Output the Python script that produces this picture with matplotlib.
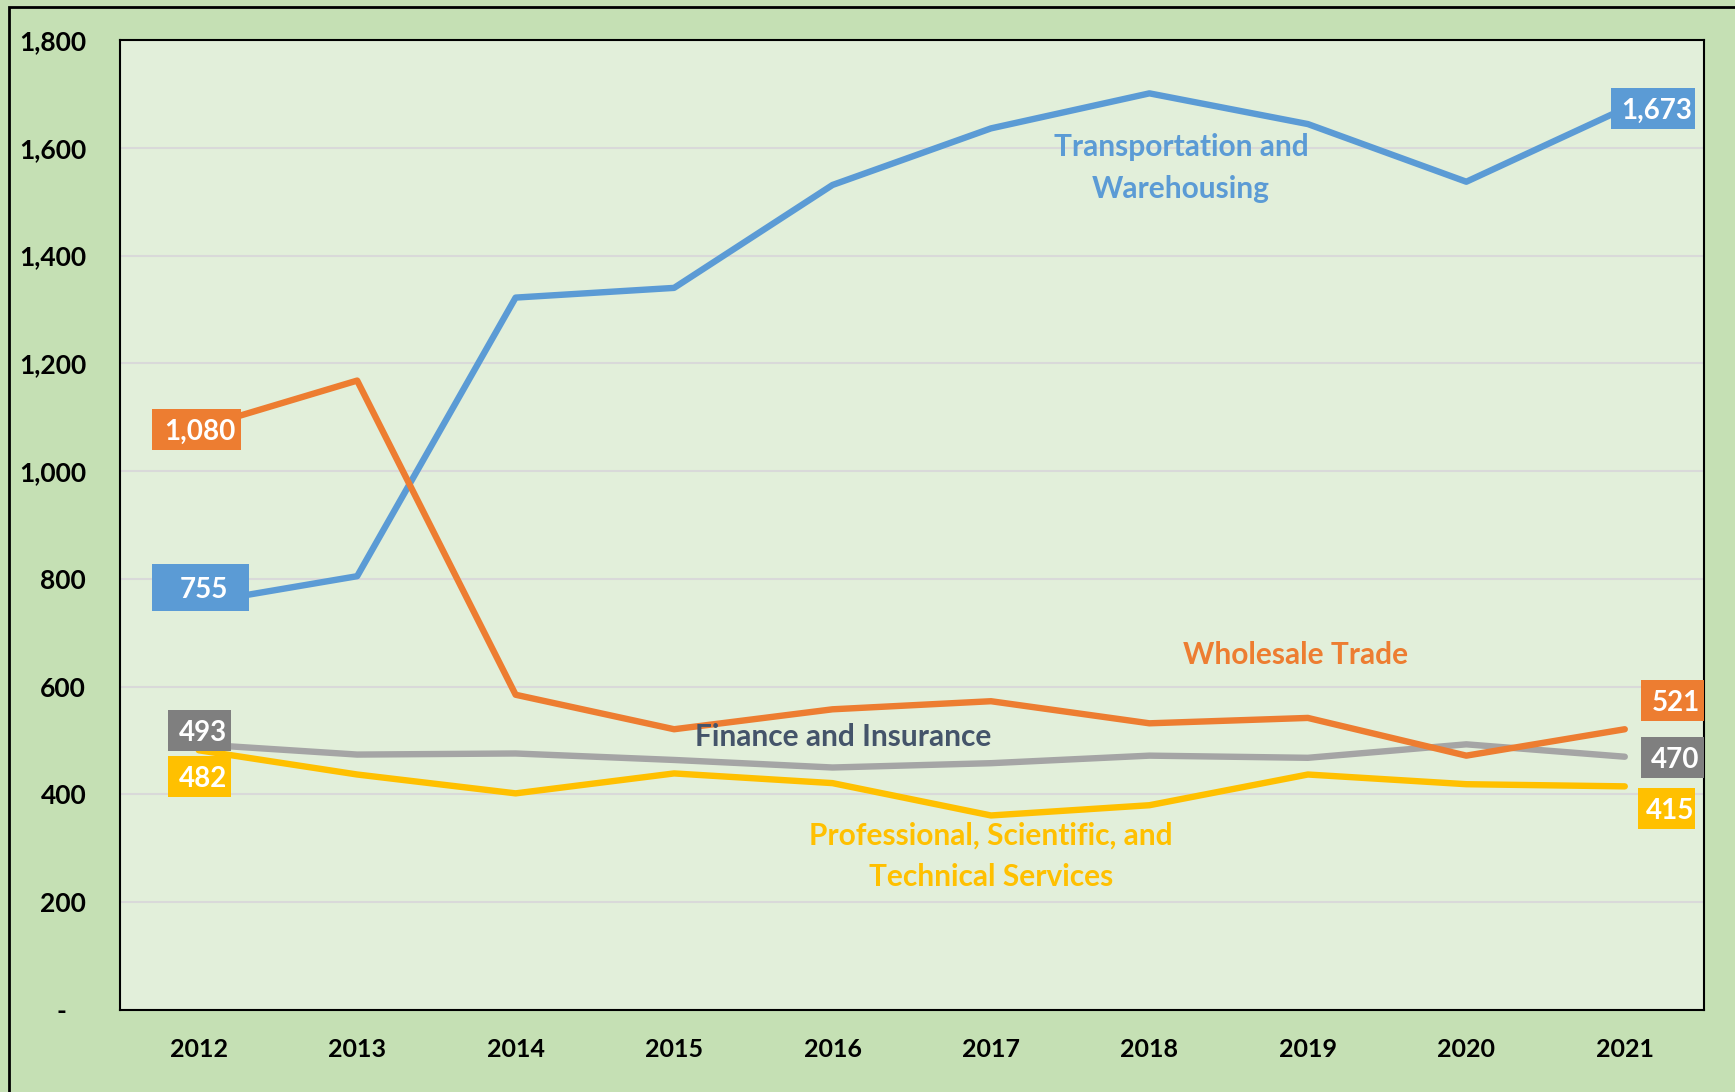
import matplotlib
matplotlib.use("Agg")
import matplotlib.pyplot as plt
from matplotlib.patches import Rectangle

years = ["2012", "2013", "2014", "2015", "2016", "2017", "2018", "2019", "2020", "2021"]
transport = [755, 805, 1322, 1340, 1531, 1636, 1701, 1644, 1537, 1673]
wholesale = [1080, 1168, 585, 521, 558, 573, 532, 542, 472, 521]
finance = [493, 474, 476, 464, 450, 458, 472, 468, 493, 470]
professional = [482, 437, 402, 439, 421, 361, 380, 437, 419, 415]
yticks = [0, 200, 400, 600, 800, 1000, 1200, 1400, 1600, 1800]
ytick_labels = ["-   ", "200", "400", "600", "800", "1,000", "1,200", "1,400", "1,600", "1,800"]

BLUE = "#5B9BD5"
ORANGE = "#ED7D31"
GRAY = "#A5A5A5"
DGRAY = "#7F7F7F"
YELLOW = "#FFC000"
SLATE = "#44546A"

plt.rcParams['font.family'] = ['Lato', 'DejaVu Sans']

fig = plt.figure(figsize=(17.35, 10.92), dpi=100)
fig.patch.set_facecolor("#C5E0B4")
fig.patches.append(Rectangle((9/1735, -0.05), 1.2, 1.05 - 6.6/1092, transform=fig.transFigure,
                             fill=False, edgecolor="black", linewidth=2, zorder=10))

ax = fig.add_axes([119.5/1735, 1 - 1010/1092, (1704-119.5)/1735, (1010-40)/1092])
ax.set_facecolor("#E2EFDA")
x = list(range(len(years)))

LW = 4.6
ax.plot(x, transport, color=BLUE, lw=LW, solid_capstyle="round", zorder=3)
ax.plot(x, wholesale, color=ORANGE, lw=LW, solid_capstyle="round", zorder=3)
ax.plot(x, finance, color=GRAY, lw=LW, solid_capstyle="round", zorder=2)
ax.plot(x, professional, color=YELLOW, lw=LW, solid_capstyle="round", zorder=2)

ax.set_xlim(-0.5, len(years) - 0.5)
ax.set_ylim(0, 1800)
ax.set_yticks(yticks)
ax.set_yticklabels(ytick_labels)
ax.set_xticks(x)
ax.set_xticklabels(years)
ax.tick_params(length=0, labelsize=19)
ax.tick_params(axis="y", pad=24)
ax.tick_params(axis="x", pad=20)
ax.tick_params(axis="x", labelsize=18)
for lab in ax.get_xticklabels() + ax.get_yticklabels():
    lab.set_fontweight("bold")
ax.grid(axis="y", color="#D9D9D9", lw=1.5)
ax.set_axisbelow(True)
for s in ax.spines.values():
    s.set_color("black")
    s.set_linewidth(1.5)


def box(x0, x1, y0, y1, val, fc):
    # box extents: x in category units, y in data units
    ax.add_patch(Rectangle((x0, y0), x1 - x0, y1 - y0, fc=fc, ec="none", zorder=5,
                           clip_on=False))
    ax.text((x0 + x1) / 2 + 0.02, (y0 + y1) / 2, f"{val:,}", color="white", fontsize=20,
            fontweight="bold", ha="center", va="center_baseline", zorder=6)

# left labels
box(-0.295, 0.267, 1039, 1115, wholesale[0], ORANGE)
box(-0.295, 0.317, 740, 828, transport[0], BLUE)
box(-0.194, 0.204, 481, 557, finance[0], DGRAY)
box(-0.194, 0.204, 395, 471, professional[0], YELLOW)
# right labels
box(8.913, 9.443, 1635, 1711, transport[-1], BLUE)
box(9.102, 9.5, 536, 612, wholesale[-1], ORANGE)
box(9.102, 9.5, 431, 507, finance[-1], DGRAY)
box(9.083, 9.443, 336, 412, professional[-1], YELLOW)

ax.text(6.2, 1562, "Transportation and\nWarehousing", color=BLUE, fontsize=21.5,
        fontweight="bold", ha="center", va="center", linespacing=1.6)
ax.text(6.92, 659, "Wholesale Trade", color=ORANGE, fontsize=21.5,
        fontweight="bold", ha="center", va="center")
ax.text(4.07, 507, "Finance and Insurance", color=SLATE, fontsize=21.5,
        fontweight="bold", ha="center", va="center")
ax.text(5.0, 285, "Professional, Scientific, and\nTechnical Services", color=YELLOW,
        fontsize=21.5, fontweight="bold", ha="center", va="center", linespacing=1.6)

fig.savefig("out.png", dpi=100, facecolor=fig.get_facecolor())
